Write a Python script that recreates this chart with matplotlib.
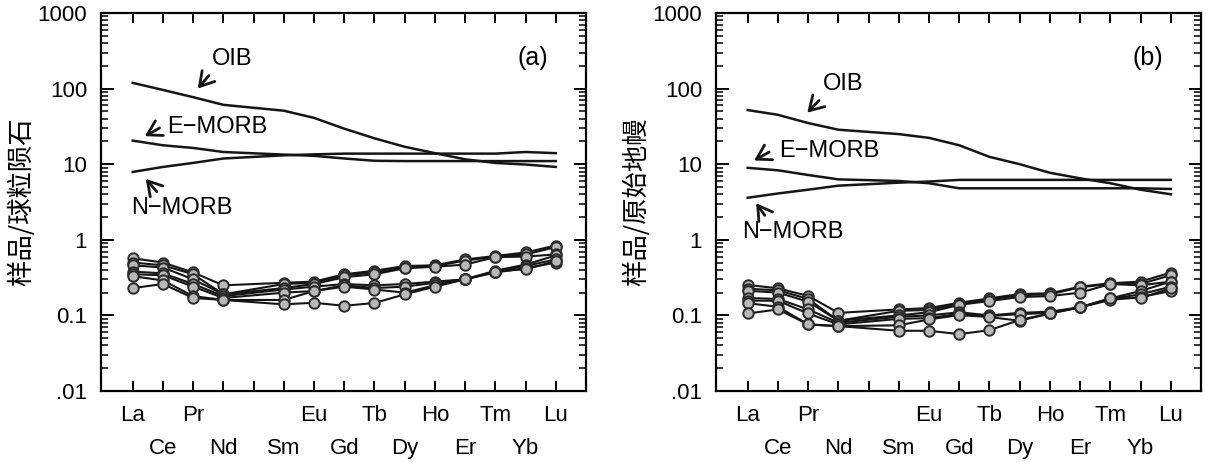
import matplotlib
matplotlib.use("Agg")
import matplotlib.pyplot as plt
from matplotlib.ticker import LogLocator, FixedLocator, NullFormatter

plt.rcParams['font.family'] = ['Liberation Sans', 'DejaVu Sans']
plt.rcParams['font.size'] = 16

# REE order (Pm slot kept empty)
elements = ["La", "Ce", "Pr", "Nd", "Pm", "Sm", "Eu", "Gd", "Tb", "Dy", "Ho", "Er", "Tm", "Yb", "Lu"]
tick_labels = ["La", "\nCe", "Pr", "\nNd", "", "\nSm", "Eu", "\nGd", "Tb", "\nDy", "Ho", "\nEr", "Tm", "\nYb", "Lu"]
ree = ["La", "Ce", "Pr", "Nd", "Sm", "Eu", "Gd", "Tb", "Dy", "Ho", "Er", "Tm", "Yb", "Lu"]

# (a) chondrite normalised
oib_a = [119, 96, 77, 61, 51, 41, 29.5, 22, 17, 14, 11.6, 10.4, 9.9, 9.2]
emorb_a = [20.5, 17.8, 16.4, 14.5, 13.4, 12.9, 11.9, 11.1, 11, 11, 11, 11, 11, 11]
nmorb_a = [7.9, 9.2, 10.4, 11.9, 13.1, 13.5, 13.8, 13.8, 13.8, 13.8, 13.8, 13.8, 14.5, 14.0]
samples_a = [
    [0.57, 0.50, 0.37, 0.25, 0.27, 0.28, 0.35, 0.39, 0.45, 0.46, 0.55, 0.61, 0.68, 0.84],
    [0.50, 0.46, 0.35, 0.19, 0.26, 0.27, 0.34, 0.37, 0.43, 0.45, 0.53, 0.60, 0.64, 0.80],
    [0.46, 0.43, 0.30, 0.19, 0.23, 0.26, 0.32, 0.35, 0.42, 0.44, 0.47, 0.59, 0.60, 0.64],
    [0.38, 0.36, 0.26, 0.18, 0.22, 0.24, 0.26, 0.25, 0.26, 0.28, 0.30, 0.39, 0.47, 0.62],
    [0.35, 0.34, 0.24, 0.17, 0.20, 0.21, 0.25, 0.23, 0.24, 0.27, 0.30, 0.38, 0.45, 0.55],
    [0.33, 0.29, 0.18, 0.16, 0.16, 0.21, 0.24, 0.22, 0.20, 0.25, 0.30, 0.37, 0.42, 0.50],
    [0.23, 0.26, 0.17, 0.16, 0.14, 0.147, 0.134, 0.146, 0.19, 0.24, 0.30, 0.38, 0.41, 0.52],
]

# (b) primitive mantle normalised
oib_b = [52, 45, 35, 28.6, 25, 22.3, 17.8, 12.5, 10, 7.7, 6.5, 5.6, 4.6, 4.0]
emorb_b = [8.95, 8.3, 7.2, 6.3, 6.0, 5.6, 4.8, 4.8, 4.8, 4.8, 4.8, 4.8, 4.8, 4.7]
nmorb_b = [3.6, 4.1, 4.6, 5.2, 5.7, 5.9, 6.2, 6.2, 6.2, 6.2, 6.2, 6.2, 6.2, 6.2]
samples_b = [
    [0.253, 0.228, 0.181, 0.108, 0.120, 0.125, 0.147, 0.168, 0.192, 0.196, 0.240, 0.266, 0.280, 0.368],
    [0.225, 0.215, 0.165, 0.085, 0.115, 0.118, 0.142, 0.163, 0.185, 0.190, 0.235, 0.262, 0.260, 0.340],
    [0.212, 0.200, 0.152, 0.085, 0.100, 0.110, 0.138, 0.155, 0.175, 0.180, 0.200, 0.260, 0.250, 0.280],
    [0.170, 0.165, 0.120, 0.080, 0.096, 0.100, 0.110, 0.100, 0.108, 0.112, 0.128, 0.168, 0.210, 0.280],
    [0.157, 0.156, 0.106, 0.076, 0.090, 0.092, 0.105, 0.098, 0.104, 0.108, 0.128, 0.165, 0.190, 0.240],
    [0.145, 0.130, 0.076, 0.072, 0.074, 0.0885, 0.101, 0.095, 0.085, 0.106, 0.128, 0.160, 0.175, 0.210],
    [0.106, 0.120, 0.076, 0.0722, 0.0626, 0.0626, 0.0565, 0.0638, 0.087, 0.106, 0.128, 0.168, 0.170, 0.228],
]

xpos = [elements.index(e) for e in ree]


def draw_panel(ax, oib, emorb, nmorb, samples, ylabel, tag, notes):
    for ref in (oib, emorb, nmorb):
        ax.plot(xpos, ref, color="#151515", lw=1.8, solid_joinstyle="round")
    for s in samples:
        ax.plot(xpos, s, color="#151515", lw=1.5, marker="o", ms=7.5,
                mfc="#b8b8b8", mec="#2a2a2a", mew=1.4)

    ax.set_yscale("log")
    ax.set_ylim(0.01, 1000)
    ax.set_xlim(-1.05, 15)
    ax.set_yticks([0.01, 0.1, 1, 10, 100, 1000])
    ax.set_yticklabels([".01", "0.1", "1", "10", "100", "1000"])
    ax.yaxis.set_minor_locator(LogLocator(base=10, subs=range(2, 10)))
    ax.yaxis.set_minor_formatter(NullFormatter())
    ax.xaxis.set_major_locator(FixedLocator(range(len(elements))))
    ax.set_xticklabels(tick_labels)
    for lab in ax.get_xticklabels():
        lab.set_linespacing(1.75)

    ax.tick_params(axis="both", which="major", direction="in", width=1.4,
                   top=True, right=True, labelsize=16)
    ax.tick_params(axis="x", which="major", length=7, pad=10)
    ax.tick_params(axis="y", which="major", length=9, pad=10)
    ax.tick_params(axis="y", which="minor", direction="in", length=5, width=1.1,
                   right=True)
    for sp in ax.spines.values():
        sp.set_linewidth(1.6)

    ax.set_ylabel(ylabel, family=["Noto Sans CJK SC", "DejaVu Sans"], fontsize=19, labelpad=2)
    ax.text(0.89, 0.88, tag, transform=ax.transAxes, ha="center", va="center", fontsize=18)

    for label, txt_xy, tail, head, ha in notes:
        ax.text(txt_xy[0], txt_xy[1], label, ha=ha, va="center", fontsize=17)
        ax.annotate("", xy=head, xytext=tail,
                    arrowprops=dict(arrowstyle="->,head_length=0.5,head_width=0.3",
                                    color="#151515", lw=2.0, mutation_scale=20,
                                    shrinkA=4, shrinkB=0))


fig = plt.figure(figsize=(12.15, 4.62), dpi=100)
ax_a = fig.add_axes([101 / 1215, 1 - 391 / 462, 485 / 1215, 378 / 462])
ax_b = fig.add_axes([716 / 1215, 1 - 391 / 462, 485 / 1215, 378 / 462])

notes_a = [
    ("OIB", (3.3, 245), (2.64, 169), (2.15, 100), "center"),
    ("E\u2212MORB", (1.15, 31), (1.05, 32.6), (0.4, 23.5), "left"),
    ("N\u2212MORB", (-0.05, 2.6), (0.92, 3.8), (0.43, 6.4), "left"),
]
notes_b = [
    ("OIB", (3.15, 114), (2.49, 78.5), (1.97, 48), "center"),
    ("E\u2212MORB", (1.03, 15), (0.87, 15.7), (0.21, 11.2), "left"),
    ("N\u2212MORB", (-0.2, 1.25), (0.67, 1.83), (0.28, 3.05), "left"),
]

draw_panel(ax_a, oib_a, emorb_a, nmorb_a, samples_a, "样品/球粒陨石", "(a)", notes_a)
draw_panel(ax_b, oib_b, emorb_b, nmorb_b, samples_b, "样品/原始地幔", "(b)", notes_b)

fig.savefig("out.png", dpi=100)
